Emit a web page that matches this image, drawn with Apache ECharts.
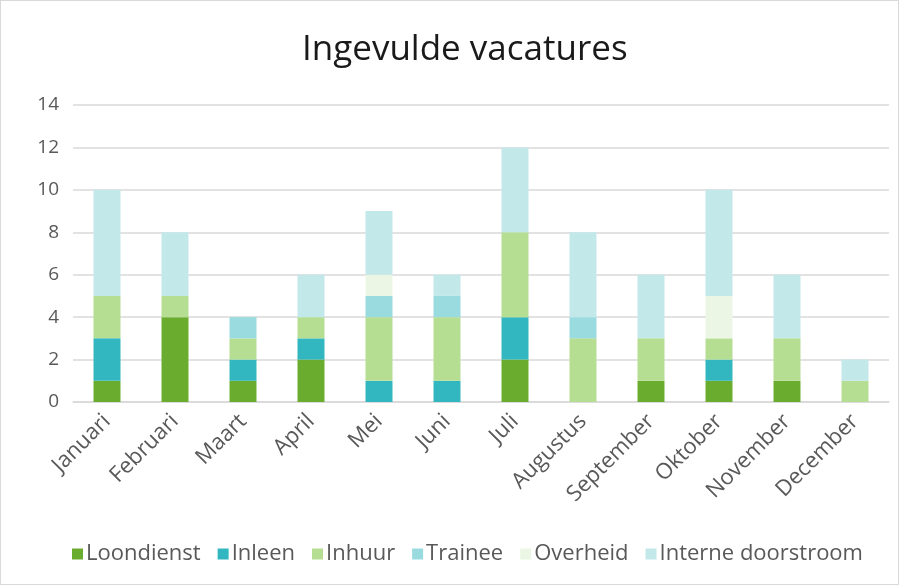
<!DOCTYPE html>
<html>
<head>
<meta charset="utf-8">
<script src="https://cdn.jsdelivr.net/npm/echarts@6/dist/echarts.min.js"></script>
<style>
html,body{margin:0;padding:0;background:#fff;}
#main{width:897px;height:583px;border:1px solid #d9d9d9;}
</style>
</head>
<body>
<div id="main"></div>
<script>
// maanden
var maanden = ['Januari','Februari','Maart','April','Mei','Juni','Juli','Augustus','September','Oktober','November','December'];
var loondienst = [1,4,1,2,0,0,2,0,1,1,1,0];
var inleen     = [2,0,1,1,1,1,2,0,0,1,0,0];
var inhuur     = [2,1,1,1,3,3,4,3,2,1,2,1];
var trainee    = [0,0,1,0,1,1,0,1,0,0,0,0];
var overheid   = [0,0,0,0,1,0,0,0,0,2,0,0];
var intern     = [5,3,0,2,3,1,4,4,3,5,3,1];
var yTicks = [0,2,4,6,8,10,12,14];

var namen = ['Loondienst','Inleen','Inhuur','Trainee','Overheid','Interne doorstroom'];
var kleuren = ['#6aad2e','#32b6c0','#b5de93','#9adbe0','#ecf6e5','#c3e8ea'];
var reeksen = [loondienst,inleen,inhuur,trainee,overheid,intern];

var series = [];
for (var i = 0; i < namen.length; i++) {
	series.push({
		name: namen[i],
		type: 'bar',
		stack: 'totaal',
		barWidth: 27,
		itemStyle: {color: kleuren[i]},
		data: reeksen[i]
	});
}

var myChart = echarts.init(document.getElementById('main'));
var option = {
	animation: false,
	title: {
		text: 'Ingevulde vacatures',
		left: 296,
		top: 27,
		textStyle: {fontFamily: 'Open Sans', fontSize: 35, fontWeight: 'normal', color: '#1a1a1a'}
	},
	legend: {
		bottom: 14,
		left: 66,
		itemWidth: 11,
		itemHeight: 11,
		itemGap: 17,
		icon: 'rect',
		textStyle: {fontFamily: 'Open Sans', fontSize: 22, color: '#595959', padding: [0,0,0,-2]},
		data: namen
	},
	grid: {left: 72, right: 9, top: 104, bottom: 182, containLabel: false},
	xAxis: {
		type: 'category',
		data: maanden,
		axisLine: {lineStyle: {color: '#d9d9d9', width: 1.5}},
		axisTick: {show: false},
		axisLabel: {rotate: 45, interval: 0, fontFamily: 'Open Sans', fontSize: 22, color: '#595959', margin: 16}
	},
	yAxis: {
		type: 'value',
		min: yTicks[0],
		max: yTicks[yTicks.length - 1],
		interval: 2,
		axisLine: {show: false},
		axisTick: {show: false},
		axisLabel: {fontFamily: 'Open Sans', fontSize: 19, color: '#595959', margin: 14},
		splitLine: {lineStyle: {color: '#d9d9d9', width: 1.5}}
	},
	series: series
};
myChart.setOption(option);
</script>
</body>
</html>
